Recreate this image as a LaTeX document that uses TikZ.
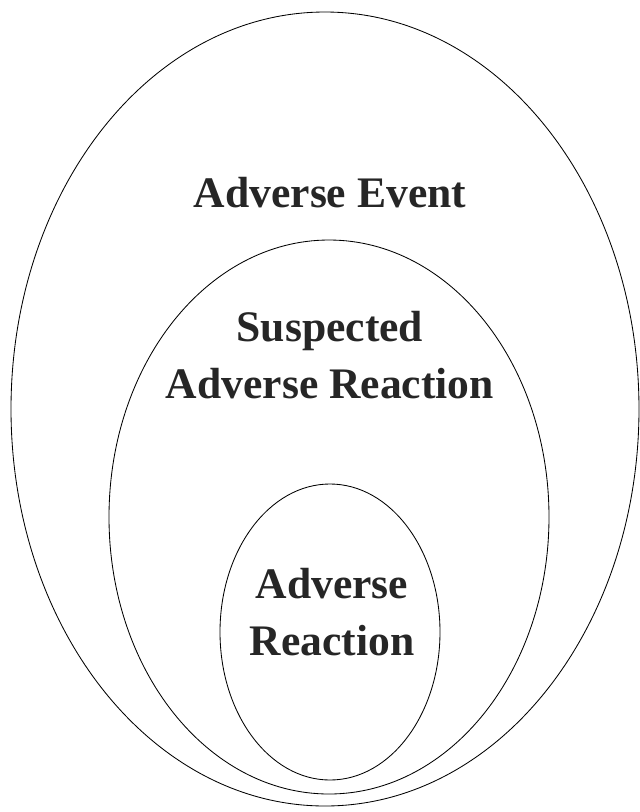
\documentclass[tikz,border=0pt]{standalone}
\usepackage{fontspec}
\setmainfont{Liberation Serif}
\usetikzlibrary{shapes.geometric}

\begin{document}
\begin{tikzpicture}[
    x=0.025cm, y=-0.025cm,
    region/.style={ellipse, draw=black, line width=0.6pt, inner sep=0pt},
    label/.style={align=center, font=\fontsize{31}{41}\selectfont\bfseries, text=black!85}
]
    \useasboundingbox (0,0) rectangle (640,812);

    % Regions
    \node[region, minimum width=628*0.025cm, minimum height=794*0.025cm] (event) at (325,409) {};
    \node[region, minimum width=440*0.025cm, minimum height=554*0.025cm] (suspected) at (329,517) {};
    \node[region, minimum width=220*0.025cm, minimum height=296*0.025cm] (reaction) at (330,632) {};

    % Labels
    \node[label] (eventtext) at (330,193) {Adverse Event};
    \node[label] (suspectedtext) at (330,355) {Suspected\\Adverse Reaction};
    \node[label] (reactiontext) at (332,612) {Adverse\\Reaction};
\end{tikzpicture}
\end{document}
